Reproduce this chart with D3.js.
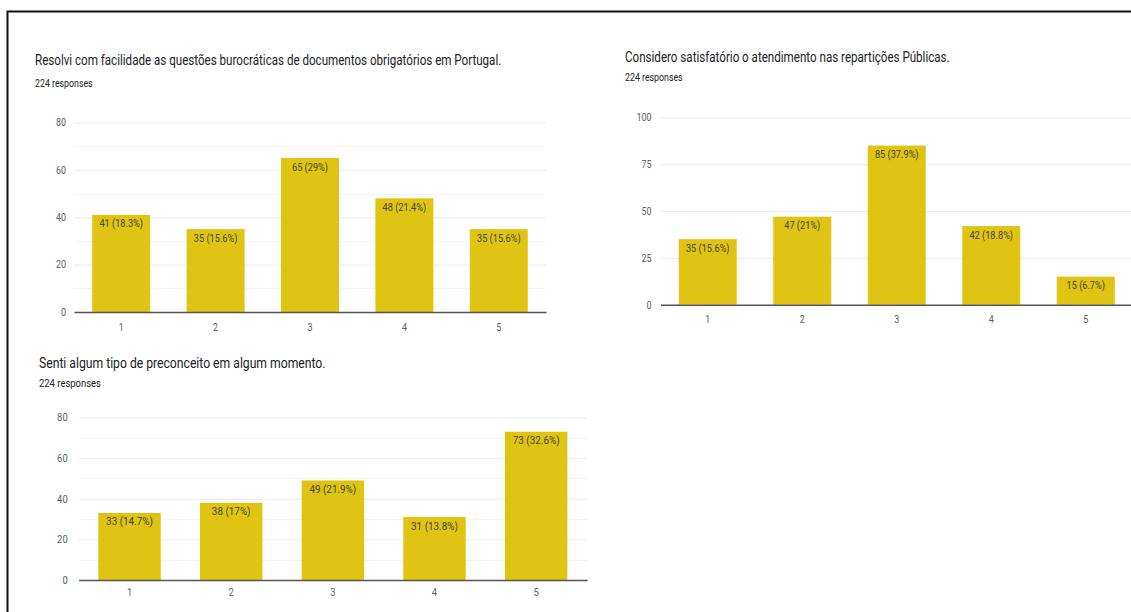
<!DOCTYPE html>
<html>
<head>
<meta charset="utf-8">
<script src="https://cdn.jsdelivr.net/npm/d3@7"></script>
<style>
  html, body { margin: 0; padding: 0; background: #ffffff; }
  svg { display: block; }
  text { font-family: Roboto, "Noto Sans", Arial, sans-serif; }
</style>
</head>
<body>
<svg id="chart" width="1131" height="612"></svg>
<script>
// Answer scale shared by the three questions
const ratings = ["1", "2", "3", "4", "5"];
const responsesLabel = "224 responses";

// Q1 – bureaucratic documents
const burocraciaTitle = "Resolvi com facilidade as questões burocráticas de documentos obrigatórios em Portugal.";
const burocraciaCounts = [41, 35, 65, 48, 35];
const burocraciaPercents = ["18.3%", "15.6%", "29%", "21.4%", "15.6%"];
const burocraciaTicks = [0, 20, 40, 60, 80];
const burocraciaMinor = [10, 30, 50, 70];

// Q2 – public offices
const atendimentoTitle = "Considero satisfatório o atendimento nas repartições Públicas.";
const atendimentoCounts = [35, 47, 85, 42, 15];
const atendimentoPercents = ["15.6%", "21%", "37.9%", "18.8%", "6.7%"];
const atendimentoTicks = [0, 25, 50, 75, 100];
const atendimentoMinor = [];

// Q3 – prejudice
const preconceitoTitle = "Senti algum tipo de preconceito em algum momento.";
const preconceitoCounts = [33, 38, 49, 31, 73];
const preconceitoPercents = ["14.7%", "17%", "21.9%", "13.8%", "32.6%"];
const preconceitoTicks = [0, 20, 40, 60, 80];
const preconceitoMinor = [10, 30, 50, 70];

const BAR = "#e0c414";
const LABEL_INK = "#46432c";
const TICK_INK = "#5e5e5e";
const TITLE_INK = "#202124";

const panels = [
  { title: burocraciaTitle, counts: burocraciaCounts, percents: burocraciaPercents,
    ticks: burocraciaTicks, minor: burocraciaMinor,
    left: 74, right: 546, top: 122.5, bottom: 312,
    titleX: 35, titleY: 65, subY: 87, sx: 0.8, titleSx: 0.8, tickSx: 0.85, tickGap: 8, xLabelY: 331 },
  { title: atendimentoTitle, counts: atendimentoCounts, percents: atendimentoPercents,
    ticks: atendimentoTicks, minor: atendimentoMinor,
    left: 660.5, right: 1133, top: 117.5, bottom: 304.7,
    titleX: 625, titleY: 62, subY: 81, sx: 0.8, titleSx: 0.8, tickSx: 0.85, tickGap: 9, xLabelY: 323 },
  { title: preconceitoTitle, counts: preconceitoCounts, percents: preconceitoPercents,
    ticks: preconceitoTicks, minor: preconceitoMinor,
    left: 78.7, right: 587, top: 417.5, bottom: 580,
    titleX: 39, titleY: 368, subY: 387, sx: 0.86, titleSx: 0.84, tickSx: 0.9, tickGap: 11, xLabelY: 596 }
];

const svg = d3.select("#chart");

// frame around the sheet
svg.append("path")
  .attr("d", "M1131,11.5H7.5V612")
  .attr("fill", "none")
  .attr("stroke", "#111")
  .attr("stroke-width", 2);

panels.forEach(p => {
  const g = svg.append("g");
  const x = d3.scaleBand().domain(ratings).range([p.left, p.right])
    .paddingInner(0.386).paddingOuter(0.193);
  const yMax = p.ticks[p.ticks.length - 1];
  const y = d3.scaleLinear().domain([0, yMax]).range([p.bottom, p.top]);

  // title and response count
  g.append("text")
    .attr("transform", `translate(${p.titleX},${p.titleY}) scale(${p.titleSx},1)`)
    .attr("font-size", 14.5).attr("fill", TITLE_INK)
    .text(p.title);
  g.append("text")
    .attr("transform", `translate(${p.titleX},${p.subY}) scale(${p.sx},1)`)
    .attr("font-size", 11).attr("fill", TITLE_INK)
    .text(responsesLabel);

  // minor gridlines
  g.selectAll("line.minor").data(p.minor).join("line")
    .attr("class", "minor")
    .attr("x1", p.left).attr("x2", p.right)
    .attr("y1", d => Math.round(y(d)) + 0.5).attr("y2", d => Math.round(y(d)) + 0.5)
    .attr("stroke", "#f4f4f4").attr("stroke-width", 1);

  // y axis with major gridlines
  const yAxis = g.append("g")
    .attr("transform", `translate(${p.left},0)`)
    .call(d3.axisLeft(y).tickValues(p.ticks).tickSize(-(p.right - p.left)).tickPadding(0));
  yAxis.select(".domain").remove();
  yAxis.selectAll(".tick line").attr("stroke", "#ebebeb").attr("stroke-width", 1);
  yAxis.selectAll(".tick text")
    .attr("x", null)
    .attr("transform", `translate(${-p.tickGap},0) scale(${p.tickSx},1)`)
    .attr("font-size", 10.5).attr("fill", TICK_INK)
    .attr("font-family", "Roboto, 'Noto Sans', Arial, sans-serif");

  // bars
  g.selectAll("rect.bar").data(p.counts).join("rect")
    .attr("class", "bar")
    .attr("x", (d, i) => x(ratings[i]))
    .attr("width", x.bandwidth())
    .attr("y", d => y(d))
    .attr("height", d => y(0) - y(d))
    .attr("fill", BAR);

  // value labels inside bar tops
  g.selectAll("text.val").data(p.counts).join("text")
    .attr("class", "val")
    .attr("transform", (d, i) => `translate(${x(ratings[i]) + x.bandwidth() / 2},${y(d) + 12.5}) scale(${p.sx},1)`)
    .attr("text-anchor", "middle")
    .attr("font-size", 11.5).attr("fill", LABEL_INK)
    .text((d, i) => `${d} (${p.percents[i]})`);

  // x axis baseline and category labels
  const xAxis = g.append("g")
    .attr("transform", `translate(0,${p.bottom})`)
    .call(d3.axisBottom(x).tickSize(0).tickSizeOuter(0).tickPadding(0));
  xAxis.select(".domain").attr("stroke", "#555").attr("stroke-width", 1.6);
  xAxis.selectAll(".tick text")
    .attr("y", null).attr("dy", null)
    .attr("transform", `translate(0,${p.xLabelY - p.bottom}) scale(${p.tickSx},1)`)
    .attr("font-size", 10.5).attr("fill", TICK_INK)
    .attr("font-family", "Roboto, 'Noto Sans', Arial, sans-serif");
});
</script>
</body>
</html>
